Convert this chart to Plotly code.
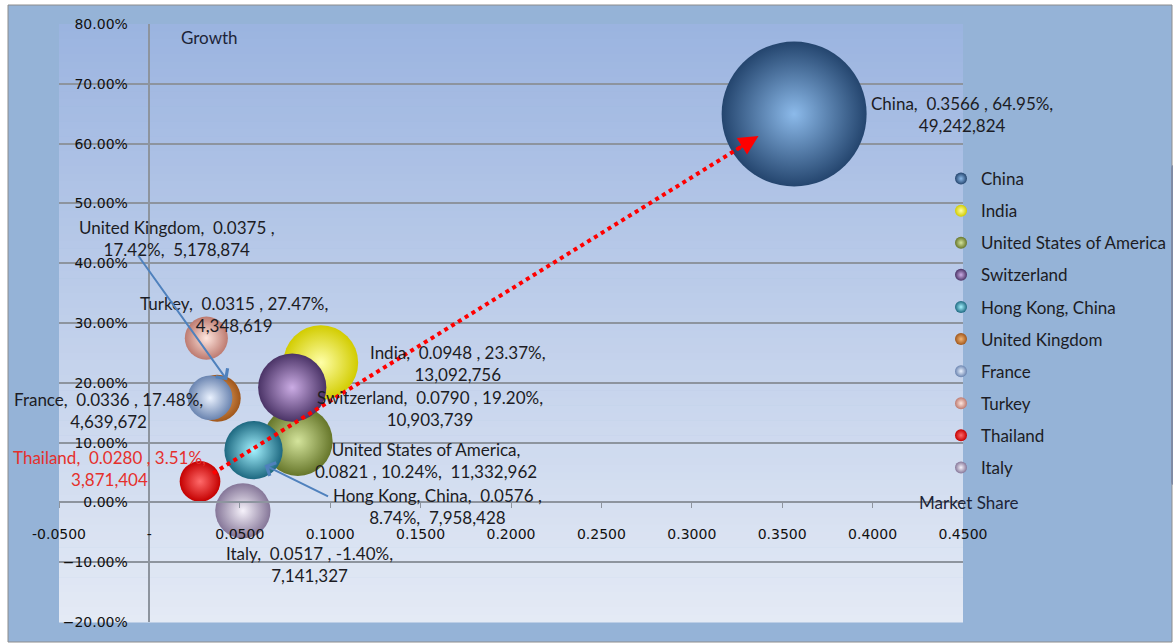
import plotly.graph_objects as go

# ---- data -------------------------------------------------------------
countries = ["China", "India", "United States of America", "Switzerland",
             "Hong Kong, China", "United Kingdom", "France", "Turkey",
             "Thailand", "Italy"]
market_share = [0.3566, 0.0948, 0.0821, 0.0790, 0.0576, 0.0375, 0.0336,
                0.0315, 0.0280, 0.0517]
growth = [0.6495, 0.2337, 0.1024, 0.1920, 0.0874, 0.1742, 0.1748,
          0.2747, 0.0351, -0.0140]
volume = [49242824, 13092756, 11332962, 10903739, 7958428, 5178874,
          4639672, 4348619, 3871404, 7141327]

x_ticks = [-0.05, 0.0, 0.05, 0.10, 0.15, 0.20, 0.25, 0.30, 0.35, 0.40, 0.45]
x_tick_text = ["-0.0500", "-", "0.0500", "0.1000", "0.1500", "0.2000",
               "0.2500", "0.3000", "0.3500", "0.4000", "0.4500"]
y_ticks = [-0.2, -0.1, 0.0, 0.1, 0.2, 0.3, 0.4, 0.5, 0.6, 0.7, 0.8]

# ---- styling ----------------------------------------------------------
edge_colors = ["#24456e", "#d2cc00", "#66762a", "#4a3366", "#1d6880",
               "#a0561a", "#6a84b0", "#bd7a70", "#c40000", "#857698"]
core_colors = ["#8cbaea", "#ffffa8", "#d4e49c", "#cbace4", "#a4f2ff",
               "#f4b676", "#eaf2ff", "#ffe6de", "#ff6a6a", "#f6f2fb"]
# label line break position (after name=1, after share=2, after growth=3)
label_break = [3, 3, 1, 3, 2, 2, 3, 3, 3, 3]
# label offsets from the bubble centre, in pixels
label_dx = [168, 137, 128, 138, 184, -40, -102, 28, -91, 67]
label_dy = [0, -1, -19, -21, -56, 160, -13, 24, 13, -54]
label_colors = ["#1c1c24"] * 8 + ["#e5302c", "#1c1c24"]

NB = "\u00a0"
LABEL_FONT = "Lato"
TICK_FONT = "DejaVu Sans"

MAX_D = 145  # diameter of the largest bubble in px
sizeref = 2.0 * max(volume) / MAX_D ** 2

W, H = 1173, 644
L, R, T, B = 59, W - 963, 24, 644 - 622
PW, PH = W - L - R, H - T - B


def px_to_paper_x(px):
    return (px - L) / PW


def px_to_paper_y(py):
    return 1 - (py - T) / PH


def label_text(i):
    parts = [f"{countries[i]},", f"{market_share[i]:.4f}{NB},",
             f"{growth[i] * 100:.2f}%,", f"{volume[i]:,}"]
    seps = [NB + NB, NB, NB + NB]
    out = parts[0]
    for k in range(1, 4):
        out += ("<br>" if k == label_break[i] else seps[k - 1]) + parts[k]
    return out


fig = go.Figure()

for i, name in enumerate(countries):
    fig.add_trace(go.Scatter(
        x=[market_share[i]], y=[growth[i]], name=name, mode="markers",
        legendgroup=name,
        marker=dict(size=[volume[i]], sizemode="area", sizeref=sizeref,
                    color=edge_colors[i], opacity=1,
                    gradient=dict(type="radial", color=core_colors[i]),
                    line=dict(width=0)),
        hoverinfo="name",
    ))

# ---- background: outer panel and vertical gradient of the plot area ----
shapes = [dict(type="rect", xref="paper", yref="paper",
               x0=px_to_paper_x(8), x1=px_to_paper_x(1172),
               y0=px_to_paper_y(642), y1=px_to_paper_y(5),
               fillcolor="#95b3d7", line=dict(color="#8c8c8c", width=1),
               layer="below")]
top_rgb = (0x9b, 0xb4, 0xe0)
bot_rgb = (0xe4, 0xea, 0xf5)
n_strips = 80
for k in range(n_strips):
    t = (k + 0.5) / n_strips
    c = tuple(round(top_rgb[j] + (bot_rgb[j] - top_rgb[j]) * t) for j in range(3))
    shapes.append(dict(type="rect", xref="paper", yref="paper",
                       x0=0, x1=1, y0=1 - (k + 1) / n_strips - 0.001,
                       y1=1 - k / n_strips,
                       fillcolor="rgb(%d,%d,%d)" % c, line=dict(width=0),
                       layer="below"))

# dotted red link from Thailand towards China
ti, ci = countries.index("Thailand"), countries.index("China")
dxs = market_share[ci] - market_share[ti]
dys = growth[ci] - growth[ti]
shapes.append(dict(type="line", xref="x", yref="y",
                   x0=market_share[ti] + 0.022 * dxs, y0=growth[ti] + 0.022 * dys,
                   x1=market_share[ti] + 0.92 * dxs, y1=growth[ti] + 0.92 * dys,
                   line=dict(color="#ff0000", width=4, dash="dot"),
                   layer="above"))

annotations = []
for i in range(len(countries)):
    annotations.append(dict(
        x=market_share[i], y=growth[i], xref="x", yref="y",
        text=label_text(i), showarrow=False, align="center",
        xanchor="center", yanchor="middle",
        xshift=label_dx[i], yshift=label_dy[i],
        font=dict(family=LABEL_FONT, size=17, color=label_colors[i])))

# arrowhead of the red link
annotations.append(dict(
    x=market_share[ti] + 0.94 * dxs, y=growth[ti] + 0.94 * dys,
    ax=market_share[ti] + 0.90 * dxs, ay=growth[ti] + 0.90 * dys,
    xref="x", yref="y", axref="x", ayref="y", text="", showarrow=True,
    arrowhead=2, arrowsize=1.3, arrowwidth=3, arrowcolor="#ff0000"))

# blue pointers from detached labels to their bubbles
ui, hi = countries.index("United Kingdom"), countries.index("Hong Kong, China")
annotations.append(dict(
    x=market_share[ui], y=growth[ui], xref="x", yref="y",
    xshift=10, yshift=18, ax=-90, ay=-126, text="", showarrow=True,
    arrowhead=4, arrowsize=1.4, arrowwidth=2, arrowcolor="#4f81bd"))
annotations.append(dict(
    x=market_share[hi], y=growth[hi], xref="x", yref="y",
    xshift=11, yshift=-15, ax=65, ay=32, text="", showarrow=True,
    arrowhead=4, arrowsize=1.4, arrowwidth=2, arrowcolor="#4f81bd"))

# axis titles
annotations.append(dict(
    x=px_to_paper_x(179), y=px_to_paper_y(38), xref="paper", yref="paper",
    text="Growth", showarrow=False, xanchor="left", yanchor="middle",
    font=dict(family=LABEL_FONT, size=17, color="#1c2438")))
annotations.append(dict(
    x=px_to_paper_x(1021), y=0, xref="paper", yref="y",
    text="Market Share", showarrow=False, xanchor="right", yanchor="middle",
    font=dict(family=LABEL_FONT, size=17, color="#1c2438")))

fig.update_layout(
    width=W, height=H,
    margin=dict(l=L, r=R, t=T, b=B, pad=0, autoexpand=False),
    paper_bgcolor="white",
    plot_bgcolor="rgba(0,0,0,0)",
    shapes=shapes,
    annotations=annotations,
    showlegend=True,
    legend=dict(xref="container", yref="container",
                x=941 / W, y=1 - 161 / H,
                xanchor="left", yanchor="top", itemwidth=30,
                bgcolor="rgba(0,0,0,0)", itemsizing="constant",
                traceorder="grouped", tracegroupgap=7,
                font=dict(family=LABEL_FONT, size=17, color="#1c1c24")),
    xaxis=dict(range=[-0.05, 0.45], tickvals=x_ticks, ticktext=x_tick_text,
               anchor="free", position=0.2, showline=True,
               linecolor="#8d949e", linewidth=1.5, ticks="outside",
               ticklen=5, tickcolor="#8d949e", ticklabelstandoff=14,
               showgrid=False, zeroline=False, automargin=False,
               tickfont=dict(family=TICK_FONT, size=14, color="#111111")),
    yaxis=dict(range=[-0.2, 0.8], tickvals=y_ticks, tickformat=".2%",
               anchor="free", position=0.1, showline=True,
               linecolor="#8d949e", linewidth=1.5, ticks="",
               ticklabelstandoff=18, showgrid=True, gridcolor="#8d949e",
               gridwidth=1.5, zeroline=False, automargin=False,
               tickfont=dict(family=TICK_FONT, size=14, color="#111111")),
)

fig.write_html("out.html")
